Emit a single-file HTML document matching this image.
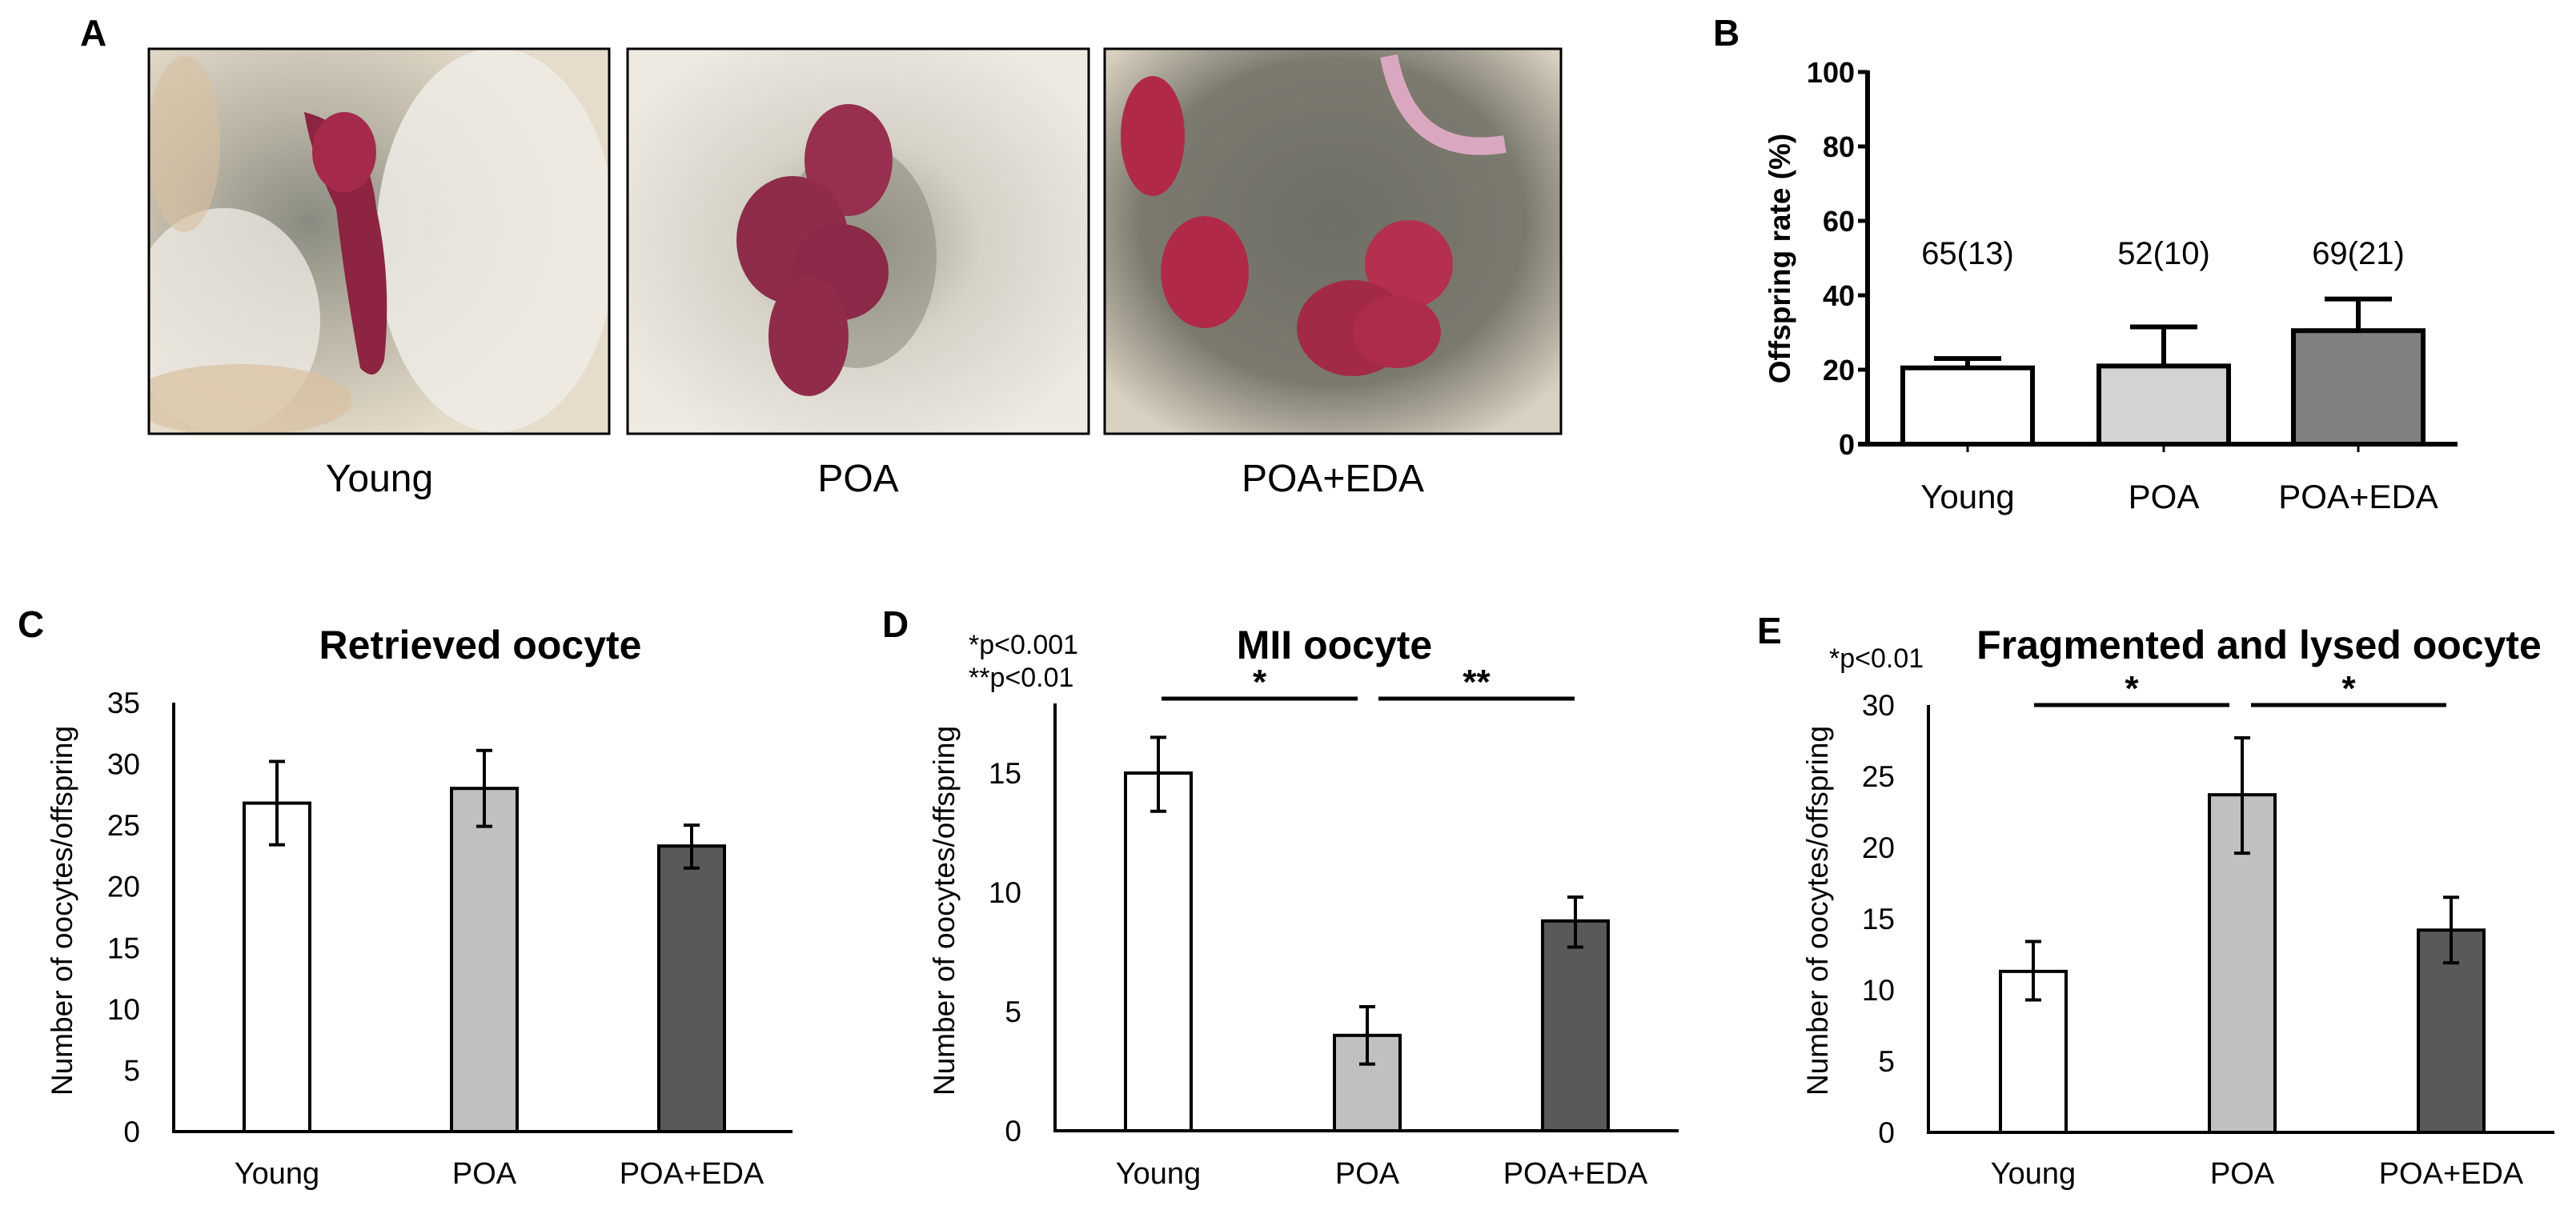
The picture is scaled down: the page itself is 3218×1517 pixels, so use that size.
<!DOCTYPE html>
<html><head><meta charset="utf-8"><style>
html,body{margin:0;padding:0;background:#fff;}
svg{display:block;}
text{font-family:"Liberation Sans Narrow","Liberation Sans",sans-serif;fill:#000;}
.bold{font-weight:bold;}
.reg{font-family:"Liberation Sans",sans-serif;}
</style></head><body>
<svg id="fig" width="3218" height="1517" viewBox="0 0 3218 1517" xmlns="http://www.w3.org/2000/svg">
<defs>
<radialGradient id="cage1" cx="0.35" cy="0.45" r="0.6"><stop offset="0" stop-color="#8a8b80"/><stop offset="0.5" stop-color="#bdb7a8"/><stop offset="1" stop-color="#e6dccb"/></radialGradient>
<radialGradient id="cage2" cx="0.5" cy="0.5" r="0.6"><stop offset="0" stop-color="#9a998c"/><stop offset="0.45" stop-color="#d6d2c8"/><stop offset="1" stop-color="#eeeae2"/></radialGradient>
<radialGradient id="cage3" cx="0.5" cy="0.45" r="0.65"><stop offset="0" stop-color="#6f6f66"/><stop offset="0.65" stop-color="#7c7a6f"/><stop offset="1" stop-color="#d8d0c0"/></radialGradient>
<clipPath id="clip1"><rect x="186" y="61" width="575" height="481"/></clipPath>
<clipPath id="clip2"><rect x="784" y="61" width="576" height="481"/></clipPath>
<clipPath id="clip3"><rect x="1380" y="61" width="570" height="481"/></clipPath>
</defs>
<g id="panel-a">
<text class="bold reg" x="100" y="57" font-size="46">A</text>
<g>
<g clip-path="url(#clip1)">
<rect x="186" y="61" width="575" height="481" fill="url(#cage1)"/>
<ellipse cx="620" cy="300" rx="150" ry="240" fill="#efece6" opacity="0.85"/>
<ellipse cx="280" cy="400" rx="120" ry="140" fill="#efece6" opacity="0.75"/>
<ellipse cx="300" cy="500" rx="140" ry="45" fill="#d8c0a0" opacity="0.7"/>
<ellipse cx="230" cy="180" rx="45" ry="110" fill="#d8c0a0" opacity="0.6"/>
<path d="M380 140 Q460 160 470 260 Q490 350 480 450 Q470 480 450 460 Q430 350 420 260 Q390 200 380 140Z" fill="#8c2442"/>
<ellipse cx="430" cy="190" rx="40" ry="50" fill="#a52a4a"/>
</g>
<rect x="186" y="61" width="575" height="481" fill="none" stroke="#000" stroke-width="3"/>
</g>
<g>
<g clip-path="url(#clip2)">
<rect x="784" y="61" width="576" height="481" fill="url(#cage2)"/>
<ellipse cx="1070" cy="320" rx="100" ry="140" fill="#8a887a" opacity="0.55"/>
<ellipse cx="1060" cy="200" rx="55" ry="70" fill="#96304e"/>
<ellipse cx="990" cy="300" rx="70" ry="80" fill="#8e2c4a"/>
<ellipse cx="1050" cy="340" rx="60" ry="60" fill="#8a2a48"/>
<ellipse cx="1010" cy="420" rx="50" ry="75" fill="#902c4a"/>
</g>
<rect x="784" y="61" width="576" height="481" fill="none" stroke="#000" stroke-width="3"/>
</g>
<g>
<g clip-path="url(#clip3)">
<rect x="1380" y="61" width="570" height="481" fill="url(#cage3)"/>
<path d="M1735 70 Q1760 200 1880 180" stroke="#d9a8c0" stroke-width="22" fill="none"/>
<ellipse cx="1440" cy="170" rx="40" ry="75" fill="#b02a48"/>
<ellipse cx="1505" cy="340" rx="55" ry="70" fill="#b02a48"/>
<ellipse cx="1760" cy="330" rx="55" ry="55" fill="#b5304e"/>
<ellipse cx="1690" cy="410" rx="70" ry="60" fill="#a32a46"/>
<ellipse cx="1745" cy="415" rx="55" ry="45" fill="#ad2c4a"/>
</g>
<rect x="1380" y="61" width="570" height="481" fill="none" stroke="#000" stroke-width="3"/>
</g>
<text x="474" y="614" font-size="48" text-anchor="middle">Young</text>
<text x="1072" y="614" font-size="48" text-anchor="middle">POA</text>
<text x="1665" y="614" font-size="48" text-anchor="middle">POA+EDA</text>
</g>
<g id="charts"></g>
</svg>
<script>
// Panel B data
const bCategories = ["Young", "POA", "POA+EDA"];
const bValues = [20.5, 21, 30.5];
const bErrTop = [23, 31.5, 39];
const bAnnotations = ["65(13)", "52(10)", "69(21)"];
const bTicks = [0, 20, 40, 60, 80, 100];
// Panel C data
const cCategories = ["Young", "POA", "POA+EDA"];
const cValues = [26.8, 28, 23.3];
const cErrLow = [23.4, 24.9, 21.5];
const cErrHigh = [30.2, 31.1, 25];
const cTicks = [0, 5, 10, 15, 20, 25, 30, 35];
// Panel D data
const dCategories = ["Young", "POA", "POA+EDA"];
const dValues = [15, 4.0, 8.8];
const dErrLow = [13.4, 2.8, 7.7];
const dErrHigh = [16.5, 5.2, 9.8];
const dTicks = [0, 5, 10, 15];
// Panel E data
const eCategories = ["Young", "POA", "POA+EDA"];
const eValues = [11.3, 23.7, 14.2];
const eErrLow = [9.3, 19.6, 11.9];
const eErrHigh = [13.4, 27.7, 16.5];
const eTicks = [0, 5, 10, 15, 20, 25, 30];

const NS = "http://www.w3.org/2000/svg";
const root = document.getElementById("charts");
function mk(tag, attrs, parent, txt) {
  const el = document.createElementNS(NS, tag);
  for (const k in attrs) el.setAttribute(k, attrs[k]);
  if (txt !== undefined) el.textContent = txt;
  (parent || root).appendChild(el);
  return el;
}

// ---------- Panel B ----------
(function () {
  const g = mk("g", {});
  
  
  const x0 = 2333, xEnd = 3070, yTop = 90, yBot = 555, vMax = 100;
  const y = v => yBot - v / vMax * (yBot - yTop);
  const centers = [2458, 2703, 2946], bw = 162;
  const fills = ["#ffffff", "#d3d3d3", "#808080"];
  const L = mk("text", { x: 2140, y: 57, "font-size": 46, class: "bold reg" }, g, "B");
  
  
  bTicks.forEach(t => {
    const tk = mk("line", { x1: x0 - 12, x2: x0, y1: y(t), y2: y(t), stroke: "#000", "stroke-width": 5 }, g);
    
    
    const tl = mk("text", { x: x0 - 16, y: y(t) + 13, "font-size": 36, "text-anchor": "end", class: "bold" }, g, String(t));
    
    
  });
  bCategories.forEach((c, i) => {
    const cx = centers[i];
    const eb = mk("line", { x1: cx, x2: cx, y1: y(bValues[i]), y2: y(bErrTop[i]), stroke: "#000", "stroke-width": 6 }, g);
    
    
    const cap = mk("line", { x1: cx - 42, x2: cx + 42, y1: y(bErrTop[i]), y2: y(bErrTop[i]), stroke: "#000", "stroke-width": 6 }, g);
    
    
    const r = mk("rect", { x: cx - bw / 2, y: y(bValues[i]), width: bw, height: yBot - y(bValues[i]), fill: fills[i], stroke: "#000", "stroke-width": 6 }, g);
    
    
    const an = mk("text", { x: cx, y: 330, "font-size": 40, "text-anchor": "middle" }, g, bAnnotations[i]);
    
    
    const xt = mk("line", { x1: cx, x2: cx, y1: yBot, y2: yBot + 10, stroke: "#000", "stroke-width": 3 }, g);
    
    
    const cl = mk("text", { x: cx, y: 635, "font-size": 42, "text-anchor": "middle" }, g, c);
    
    
  });
  const ya = mk("line", { x1: x0, x2: x0, y1: yTop - 2, y2: yBot, stroke: "#000", "stroke-width": 6 }, g);
  
  
  const xa = mk("line", { x1: x0 - 12, x2: xEnd, y1: yBot, y2: yBot, stroke: "#000", "stroke-width": 6 }, g);
  
  
  const yt = mk("text", { x: 0, y: 0, "font-size": 37, "text-anchor": "middle", class: "bold reg", transform: "translate(2236,323) rotate(-90)" }, g, "Offspring rate (%)");
  
  
})();

// ---------- Panels C, D, E ----------
function panel(cfg) {
  const g = mk("g", {});
  
  
  const y = v => cfg.yBot - v / cfg.vMax * (cfg.yBot - cfg.yTop);
  const fills = ["#ffffff", "#c0c0c0", "#595959"];
  const bw = 82;
  const L = mk("text", { x: cfg.letterX, y: cfg.letterY, "font-size": 46, class: "bold reg" }, g, cfg.letter);
  
  
  const T = mk("text", { x: cfg.titleX, y: 823, "font-size": 50, "text-anchor": "middle", class: "bold" }, g, cfg.title);
  
  
  cfg.ticks.forEach(t => {
    const tl = mk("text", { x: cfg.x0 - 42, y: y(t) + 13, "font-size": 37, "text-anchor": "end" }, g, String(t));
    
    
  });
  cfg.cats.forEach((c, i) => {
    const cx = cfg.centers[i];
    const r = mk("rect", { x: cx - bw / 2, y: y(cfg.vals[i]), width: bw, height: cfg.yBot - y(cfg.vals[i]), fill: fills[i], stroke: "#000", "stroke-width": 4 }, g);
    
    
    const eb = mk("line", { x1: cx, x2: cx, y1: y(cfg.lo[i]), y2: y(cfg.hi[i]), stroke: "#000", "stroke-width": 4 }, g);
    
    
    [cfg.lo[i], cfg.hi[i]].forEach(v => {
      const cap = mk("line", { x1: cx - 10, x2: cx + 10, y1: y(v), y2: y(v), stroke: "#000", "stroke-width": 4 }, g);
      
      
    });
    const cl = mk("text", { x: cx, y: 1479, "font-size": 38, "text-anchor": "middle" }, g, c);
    
    
  });
  const ya = mk("line", { x1: cfg.x0, x2: cfg.x0, y1: cfg.yTop, y2: cfg.yBot + 2, stroke: "#000", "stroke-width": 4 }, g);
  
  
  const xa = mk("line", { x1: cfg.x0, x2: cfg.xEnd, y1: cfg.yBot, y2: cfg.yBot, stroke: "#000", "stroke-width": 4 }, g);
  
  
  const yt = mk("text", { x: 0, y: 0, "font-size": 37, "text-anchor": "middle", class: "reg", transform: "translate(" + cfg.ylabX + ",1138) rotate(-90)" }, g, "Number of oocytes/offspring");
  
  
  (cfg.sig || []).forEach(s => {
    const sl = mk("line", { x1: s.x1, x2: s.x2, y1: s.y, y2: s.y, stroke: "#000", "stroke-width": 5 }, g);
    
    
    const st = mk("text", { x: (s.x1 + s.x2) / 2, y: s.y - 6, "font-size": 44, "text-anchor": "middle", class: "bold reg" }, g, s.label);
    
    
  });
  (cfg.notes || []).forEach(n => {
    const nt = mk("text", { x: n.x, y: n.y, "font-size": 34 }, g, n.t);
    
    
  });
}

panel({ name: "panel-c-chart", key: "c", letter: "C", letterX: 22, letterY: 796, title: "Retrieved oocyte", titleX: 600,
  x0: 217, xEnd: 990, yTop: 878, yBot: 1414, vMax: 35, ticks: cTicks, cats: cCategories, vals: cValues, lo: cErrLow, hi: cErrHigh,
  centers: [346, 605, 864], ylabX: 90 });
panel({ name: "panel-d-chart", key: "d", letter: "D", letterX: 1102, letterY: 796, title: "MII oocyte", titleX: 1667,
  x0: 1318, xEnd: 2097, yTop: 879, yBot: 1413, vMax: 17.92, ticks: dTicks, cats: dCategories, vals: dValues, lo: dErrLow, hi: dErrHigh,
  centers: [1447, 1708, 1968], ylabX: 1192,
  sig: [{ x1: 1451, x2: 1696, y: 873, label: "*" }, { x1: 1722, x2: 1967, y: 873, label: "**" }],
  notes: [{ x: 1210, y: 817, t: "*p<0.001" }, { x: 1210, y: 858, t: "**p<0.01" }] });
panel({ name: "panel-e-chart", key: "e", letter: "E", letterX: 2195, letterY: 804, title: "Fragmented and lysed oocyte", titleX: 2822,
  x0: 2409, xEnd: 3191, yTop: 881, yBot: 1415, vMax: 30, ticks: eTicks, cats: eCategories, vals: eValues, lo: eErrLow, hi: eErrHigh,
  centers: [2540, 2801, 3062], ylabX: 2283,
  sig: [{ x1: 2541, x2: 2785, y: 881, label: "*" }, { x1: 2812, x2: 3056, y: 881, label: "*" }],
  notes: [{ x: 2285, y: 834, t: "*p<0.01" }] });
</script>
</body></html>
